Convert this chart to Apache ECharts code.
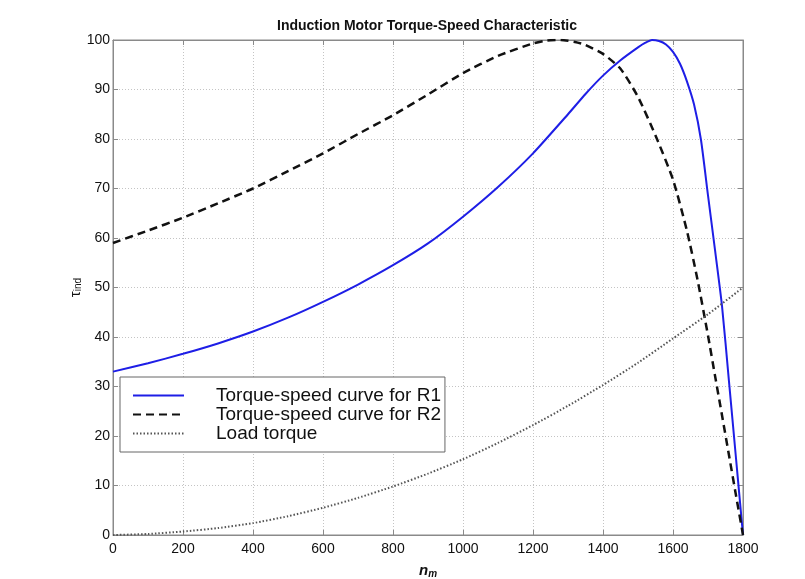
<!DOCTYPE html>
<html>
<head>
<meta charset="utf-8">
<script src="https://cdn.jsdelivr.net/npm/echarts@6/dist/echarts.min.js"></script>
<style>html,body{margin:0;padding:0;background:#fff;}#c{width:805px;height:579px;}</style>
</head>
<body>
<div id="c"></div>
<script>
const titleText = 'Induction Motor Torque-Speed Characteristic';
const seriesNames = ['Torque-speed curve for R1', 'Torque-speed curve for R2', 'Load torque'];
const xTicks = [0, 200, 400, 600, 800, 1000, 1200, 1400, 1600, 1800];
const yTicks = [0, 10, 20, 30, 40, 50, 60, 70, 80, 90, 100];

const r1Speed  = [0,100,200,300,400,500,600,700,800,900,1000,1100,1200,1300,1350,1400,1450,1500,1520,1540,1560,1580,1600,1620,1640,1660,1680,1700,1720,1740,1760,1780,1800];
const r1Torque = [33.0,34.7,36.6,38.7,41.1,43.9,47.1,50.6,54.5,58.9,64.3,70.3,77.1,85.0,89.1,92.8,95.9,98.5,99.4,100,99.8,99.1,97.6,95.2,91.6,87.0,79.8,68.6,57.6,46.3,31.0,15.5,0];

const r2Speed  = [0,100,200,300,400,500,600,700,800,900,1000,1100,1200,1240,1280,1320,1350,1400,1450,1500,1550,1600,1640,1670,1700,1720,1740,1760,1780,1800];
const r2Torque = [59.0,61.5,64.1,67.0,70.0,73.5,77.1,81.0,84.8,89.0,93.3,96.8,99.3,99.9,100,99.6,99.0,97.2,94.2,88.5,80.7,71.8,61.4,51.6,40.3,32.2,24.2,16.1,8.0,0];

const loadSpeed  = [0,100,200,300,400,500,600,700,800,900,1000,1100,1200,1300,1400,1500,1600,1700,1800];
const loadTorque = [0,0.2,0.7,1.4,2.4,3.8,5.5,7.5,9.8,12.4,15.3,18.6,22.2,26.1,30.3,34.8,39.7,44.6,50.0];

const pairs = (xs, ys) => xs.map((x, i) => [x, ys[i]]);
const FONT = '"Liberation Sans", Arial, Helvetica, sans-serif';
const boxColor = '#8a8a8a';

const chart = echarts.init(document.getElementById('c'), null, {renderer: 'canvas'});
const xMin = xTicks[0], xMax = xTicks[xTicks.length - 1], xInt = xTicks[1] - xTicks[0];
const yMin = yTicks[0], yMax = yTicks[yTicks.length - 1], yInt = yTicks[1] - yTicks[0];

const tickStyle = {show: true, inside: true, length: 5, lineStyle: {color: boxColor, width: 1}};
const plain = v => String(v);
chart.setOption({
  animation: false,
  backgroundColor: '#ffffff',
  title: {
    text: titleText,
    left: 272, top: 14,
    textStyle: {fontFamily: FONT, fontSize: 14, fontWeight: 'bold', color: '#111'}
  },
  grid: {left: 113, right: 62, top: 40, bottom: 44, containLabel: false, outerBoundsMode: 'none',
         show: true, borderColor: boxColor, borderWidth: 1, backgroundColor: '#fff'},
  legend: {
    orient: 'vertical',
    left: 120, top: 377,
    padding: [9, 4, 9, 12],
    itemWidth: 51, itemHeight: 14, itemGap: 0,
    backgroundColor: '#ffffff',
    borderColor: '#666', borderWidth: 1,
    itemStyle: {opacity: 0},
    textStyle: {fontFamily: FONT, fontSize: 19, lineHeight: 19, color: '#111', padding: [0, 0, 0, 27]},
    data: seriesNames
  },
  xAxis: [{
    type: 'value', min: xMin, max: xMax, interval: xInt,
    name: '{n|n}{m|m}', nameLocation: 'middle', nameGap: 28, nameMoveOverlap: false,
    nameTextStyle: {rich: {
      n: {fontFamily: FONT, fontSize: 15, fontWeight: 'bold', fontStyle: 'italic', color: '#111'},
      m: {fontFamily: FONT, fontSize: 10, fontWeight: 'bold', fontStyle: 'italic', color: '#111', verticalAlign: 'bottom', padding: [6, 0, 0, 0]}
    }},
    axisLine: {show: true, onZero: false, lineStyle: {color: boxColor}},
    axisTick: tickStyle,
    axisLabel: {fontFamily: FONT, fontSize: 14, color: '#111', margin: 7, formatter: plain},
    splitLine: {show: true, lineStyle: {color: '#c4c4c4', type: [1, 2], width: 1}}
  }, {
    type: 'value', position: 'top', min: xMin, max: xMax, interval: xInt,
    axisLine: {show: true, onZero: false, lineStyle: {color: boxColor}},
    axisTick: tickStyle, axisLabel: {show: false}, splitLine: {show: false}
  }],
  yAxis: [{
    type: 'value', min: yMin, max: yMax, interval: yInt,
    name: '{t|τ}{s|ind}', nameLocation: 'middle', nameGap: 30, nameRotate: 90, nameMoveOverlap: false,
    nameTextStyle: {rich: {
      t: {fontFamily: FONT, fontSize: 15, color: '#111'},
      s: {fontFamily: FONT, fontSize: 10, color: '#111', verticalAlign: 'bottom', padding: [5, 0, 0, 0]}
    }},
    axisLine: {show: true, onZero: false, lineStyle: {color: boxColor}},
    axisTick: tickStyle,
    axisLabel: {fontFamily: FONT, fontSize: 14, color: '#111', margin: 3, formatter: plain},
    splitLine: {show: true, lineStyle: {color: '#c4c4c4', type: [1, 2], width: 1}}
  }, {
    type: 'value', position: 'right', min: yMin, max: yMax, interval: yInt,
    axisLine: {show: true, onZero: false, lineStyle: {color: boxColor}},
    axisTick: tickStyle, axisLabel: {show: false}, splitLine: {show: false}
  }],
  series: [{
    name: seriesNames[0], type: 'line', symbol: 'none', smooth: 0.2,
    data: pairs(r1Speed, r1Torque),
    lineStyle: {color: '#1e1ee6', width: 2, type: 'solid'},
    itemStyle: {color: '#1e1ee6'}
  }, {
    name: seriesNames[1], type: 'line', symbol: 'none', smooth: 0.2,
    data: pairs(r2Speed, r2Torque),
    lineStyle: {color: '#111', width: 2.5, type: [8, 5]},
    itemStyle: {color: '#111'}
  }, {
    name: seriesNames[2], type: 'line', symbol: 'none', smooth: 0.2,
    data: pairs(loadSpeed, loadTorque),
    lineStyle: {color: '#555', width: 2, type: [1.5, 2]},
    itemStyle: {color: '#555'}
  }]
});
</script>
</body>
</html>
